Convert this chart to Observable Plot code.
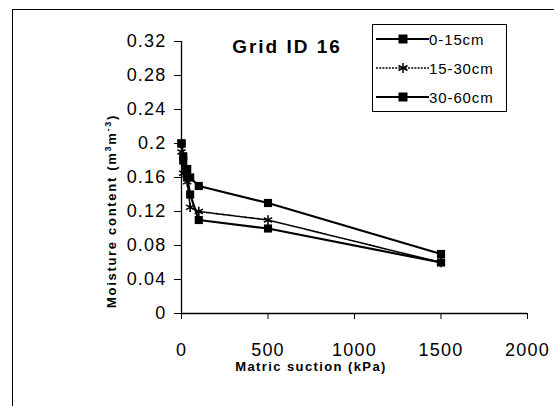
<!DOCTYPE html>
<html><head><meta charset="utf-8">
<script src="https://cdn.jsdelivr.net/npm/d3@7"></script>
<script src="https://cdn.jsdelivr.net/npm/@observablehq/plot@0.6"></script>
<style>
body{margin:0;background:#fff;font-family:"Liberation Sans",Arial,sans-serif;}
#wrap{position:relative;width:554px;height:406px;overflow:hidden;}
#frame{position:absolute;left:12px;top:9px;width:560px;height:420px;border-left:1.5px solid #000;border-top:1.5px solid #000;}
#title{position:absolute;left:287px;top:36px;transform:translateX(-50%);font-weight:bold;font-size:19px;letter-spacing:2px;white-space:nowrap;}
#xlab{position:absolute;left:311px;top:359px;transform:translateX(-50%);font-weight:bold;font-size:13px;letter-spacing:1.4px;white-space:nowrap;}
#ylab{position:absolute;left:111px;top:211px;transform:translate(-50%,-50%) rotate(-90deg);font-weight:bold;font-size:13px;letter-spacing:1.7px;white-space:nowrap;}
#legend{position:absolute;left:372px;top:24px;width:133px;height:86px;border:1.5px solid #000;background:#fff;}
#legend .row{position:absolute;left:1px;height:20px;display:flex;align-items:center;font-size:15px;letter-spacing:0.9px;}
#wrap > svg{position:absolute;left:0;top:0;}
#wrap > svg text{letter-spacing:1.2px;}
</style></head>
<body>
<div id="wrap">
<div id="frame"></div>
</div>
<script>
const suction = [0, 10, 33, 50, 100, 500, 1500];
const s0_15  = [0.20, 0.185, 0.17, 0.16, 0.15, 0.13, 0.07];
const s15_30 = [0.19, 0.165, 0.155, 0.125, 0.12, 0.11, 0.06];
const s30_60 = [0.20, 0.18, 0.16, 0.14, 0.11, 0.10, 0.06];
const seriesNames = ["0-15cm", "15-30cm", "30-60cm"];
const xTicks = [0, 500, 1000, 1500, 2000];
const yTicks = [0, 0.04, 0.08, 0.12, 0.16, 0.2, 0.24, 0.28, 0.32];

const mk = (vals, name) => suction.map((x, i) => ({x, y: vals[i], s: name}));
const d1 = mk(s0_15, seriesNames[0]);
const d2 = mk(s15_30, seriesNames[1]);
const d3s = mk(s30_60, seriesNames[2]);

const chart = Plot.plot({
  width: 554, height: 406,
  marginLeft: 181, marginRight: 27, marginTop: 41, marginBottom: 93,
  style: {fontFamily: '"Liberation Sans", Arial, sans-serif', fontSize: "18px", background: "transparent", overflow: "visible"},
  x: {domain: [0, 2000], ticks: xTicks, label: null},
  y: {domain: [0, 0.32], ticks: yTicks, label: null},
  marks: [
    Plot.axisX({ticks: xTicks, tickSize: 6, tickPadding: 24, fontSize: 18, tickFormat: d => String(d), label: null, stroke: "#000"}),
    Plot.axisY({ticks: yTicks, tickSize: 7, tickPadding: 8, fontSize: 18, tickFormat: d => String(+d.toFixed(2)), label: null, stroke: "#000"}),
    Plot.ruleX([0], {stroke: "#000", strokeWidth: 1.3}),
    Plot.ruleY([0], {stroke: "#000", strokeWidth: 1.3}),
    Plot.line(d2, {x: "x", y: "y", stroke: "#000", strokeWidth: 1.6, strokeDasharray: "2,1.2"}),
    Plot.line(d3s, {x: "x", y: "y", stroke: "#000", strokeWidth: 2.2}),
    Plot.dot(d3s, {x: "x", y: "y", symbol: "square", r: 4.6, fill: "#000"}),
    Plot.line(d1, {x: "x", y: "y", stroke: "#000", strokeWidth: 2.2}),
    Plot.dot(d1, {x: "x", y: "y", symbol: "square", r: 4.6, fill: "#000"}),
    Plot.dot(d2, {x: "x", y: "y", symbol: "asterisk", r: 4.5, stroke: "#000", strokeWidth: 1.6})
  ]
});
const wrap = document.getElementById("wrap");
wrap.appendChild(chart);

function addDiv(id, text) {
  const d = document.createElement("div");
  d.id = id; d.innerHTML = text; wrap.appendChild(d); return d;
}
addDiv("title", "Grid ID 16");
addDiv("xlab", "Matric suction (kPa)");
addDiv("ylab", "Moisture content (m<sup style='font-size:9px'>3</sup>m<sup style='font-size:9px'>-3</sup>)");

const leg = addDiv("legend", "");
seriesNames.forEach((name, i) => {
  const row = document.createElement("div");
  row.className = "row";
  row.style.top = (4 + i * 29) + "px";
  const dash = i === 1 ? "stroke-dasharray='2,1.2' stroke-width='1.6'" : "stroke-width='2'";
  const marker = i === 1
    ? "<g stroke='#000' stroke-width='1.5'><line x1='29' y1='5' x2='29' y2='15'/><line x1='24.5' y1='7.5' x2='33.5' y2='12.5'/><line x1='24.5' y1='12.5' x2='33.5' y2='7.5'/></g>"
    : "<rect x='24.5' y='5.5' width='9' height='9' fill='#000'/>";
  row.innerHTML = `<svg width="55" height="20"><line x1="2" y1="10" x2="55" y2="10" stroke="#000" ${dash}/>${marker}</svg><span>${name}</span>`;
  leg.appendChild(row);
});
</script>
</body></html>
